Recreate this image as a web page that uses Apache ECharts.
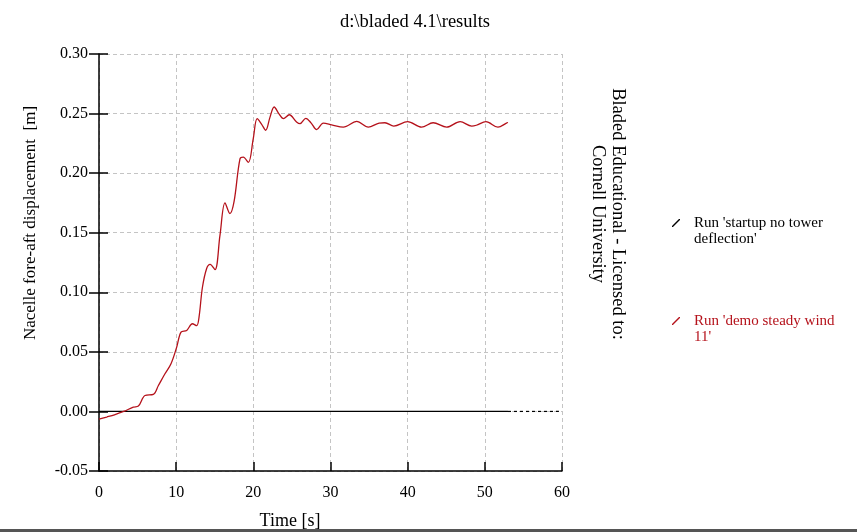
<!DOCTYPE html>
<html>
<head>
<meta charset="utf-8">
<script src="https://cdn.jsdelivr.net/npm/echarts@6/dist/echarts.min.js"></script>
<style>
html,body{margin:0;padding:0;background:#fff;}
#chart{width:857px;height:532px;}
</style>
</head>
<body>
<div id="chart"></div>
<script>
// ---- data ----
const titleText = "d:\\bladed 4.1\\results";
const yAxisName = "Nacelle fore-aft displacement  [m]";
const xAxisName = "Time [s]";
const licenseLines = ["Bladed Educational - Licensed to:", "Cornell University"];

const seriesNames = ["Run 'startup no tower deflection'", "Run 'demo steady wind 11'"];

// Run 'startup no tower deflection' (solid part and dotted continuation)
const startupTime = [0, 53];
const startupValue = [0, 0];
const startupTailTime = [53, 59.6];
const startupTailValue = [0, 0];

// Run 'demo steady wind 11'
const demoTime = [0, 1, 2, 3.2, 4.45, 5.1, 5.96, 7.04, 7.7, 8.55, 9.33, 10.07, 10.63, 11.36, 12.1, 12.66, 12.96,
  13.4, 13.95, 14.4, 15.03, 15.68, 16.33, 16.97, 17.5, 18.27, 18.7, 19.35, 19.99, 20.5, 21.08, 21.6, 22.16, 22.7,
  23.3, 23.9, 24.66, 25.6, 26.05, 26.8, 27.5, 28.2, 29.07, 30.15, 31.66, 33.4, 34.9, 36.3, 37.06, 38.2, 40.0,
  41.8, 43.3, 45.05, 46.8, 48.3, 48.9, 50.15, 51.7, 52.8, 53.0];
const demoValue = [-0.0065, -0.0047, -0.0028, 0.0, 0.0036, 0.0045, 0.0134, 0.0143, 0.0218, 0.0316, 0.040, 0.054,
  0.0666, 0.068, 0.0736, 0.072, 0.079, 0.104, 0.120, 0.1235, 0.119, 0.148, 0.175, 0.166, 0.176, 0.212, 0.2135,
  0.209, 0.229, 0.2457, 0.241, 0.236, 0.247, 0.2555, 0.250, 0.2457, 0.249, 0.243, 0.2415, 0.246, 0.242, 0.2365,
  0.242, 0.2406, 0.2386, 0.2434, 0.2386, 0.242, 0.2423, 0.2395, 0.2432, 0.2386, 0.2423, 0.2386, 0.2432, 0.2395,
  0.2402, 0.2432, 0.2386, 0.242, 0.2425];

const xMin = 0, xMax = 60, xStep = 10;
const yMin = -0.05, yMax = 0.30, yStep = 0.05;

// ---- chart ----
const zip = (a, b) => a.map((v, i) => [v, b[i]]);
const FONT = "Liberation Serif";
const RED = "#b5121b";
const chart = echarts.init(document.getElementById('chart'), null, {renderer: 'canvas'});

const legendWrap = {};
legendWrap[seriesNames[0]] = "\nRun 'startup no tower\ndeflection'";
legendWrap[seriesNames[1]] = "\nRun 'demo steady wind\n11'";
// slash glyph plus an invisible point that widens the icon box (gap before the text)
const slashIcon = 'path://M0,8 L1,8 L8,1 L8,0 L7,0 L0,7 Z M17,4 L17.01,4 L17.01,4.01 Z';

chart.setOption({
  animation: false,
  backgroundColor: '#fff',
  grid: {left: 99, right: 295, top: 54, bottom: 61, containLabel: false},
  legend: {
    orient: 'vertical', left: 667, top: 194, itemGap: 50,
    itemWidth: 17, itemHeight: 8,
    formatter: n => legendWrap[n] || n,
    data: [
      {name: seriesNames[0], icon: slashIcon, itemStyle: {color: '#000'}, textStyle: {color: '#000'}},
      {name: seriesNames[1], icon: slashIcon, itemStyle: {color: RED}, textStyle: {color: RED}}
    ],
    textStyle: {fontFamily: FONT, fontSize: 15, lineHeight: 16}
  },
  xAxis: {
    type: 'value', min: xMin, max: xMax, interval: xStep,
    axisLine: {show: true, onZero: false, lineStyle: {color: '#000', width: 1.5}},
    axisTick: {show: true, inside: true, length: 9, lineStyle: {color: '#000', width: 1.5}},
    axisLabel: {fontFamily: FONT, fontSize: 16, color: '#000', margin: 14},
    splitLine: {show: true, lineStyle: {color: '#c4c4c4', type: [4, 3], width: 1}}
  },
  yAxis: [{
    type: 'value', min: yMin, max: yMax, interval: yStep,
    axisLine: {show: true, onZero: false, lineStyle: {color: '#000', width: 1.5}},
    axisTick: {show: true, inside: false, length: 10, lineStyle: {color: '#000', width: 1.5}},
    axisLabel: {fontFamily: FONT, fontSize: 16, color: '#000', margin: 11, formatter: v => v.toFixed(2)},
    splitLine: {show: true, lineStyle: {color: '#c4c4c4', type: [4, 3], width: 1}}
  }, {
    type: 'value', min: yMin, max: yMax, interval: yStep, position: 'left',
    axisLine: {show: false},
    axisTick: {show: true, inside: true, length: 9, lineStyle: {color: '#000', width: 1.5}},
    axisLabel: {show: false},
    splitLine: {show: false}
  }],
  series: [{
    name: seriesNames[0], type: 'line', data: zip(startupTime, startupValue),
    showSymbol: false, lineStyle: {color: '#000', width: 1.2}, itemStyle: {color: '#000'}, z: 3
  }, {
    name: seriesNames[0] + ' tail', type: 'line', data: zip(startupTailTime, startupTailValue),
    showSymbol: false, lineStyle: {color: '#000', width: 1.2, type: [3, 3]}, z: 3
  }, {
    name: seriesNames[1], type: 'line', data: zip(demoTime, demoValue), smooth: 0.35,
    showSymbol: false, lineStyle: {color: RED, width: 1.3}, itemStyle: {color: RED}, z: 4
  }],
  graphic: [{
    type: 'text', x: 415, y: 22,
    style: {text: titleText, fontFamily: FONT, fontSize: 18.5, fill: '#000', align: 'center', verticalAlign: 'middle'}
  }, {
    type: 'text', x: 31, y: 223, rotation: Math.PI / 2,
    style: {text: yAxisName, fontFamily: FONT, fontSize: 17, fill: '#000', align: 'center', verticalAlign: 'middle'}
  }, {
    type: 'text', x: 290, y: 521,
    style: {text: xAxisName, fontFamily: FONT, fontSize: 18, fill: '#000', align: 'center', verticalAlign: 'middle'}
  }, {
    type: 'text', x: 608, y: 214, rotation: -Math.PI / 2,
    style: {text: licenseLines.join('\n'), fontFamily: FONT, fontSize: 18.5, lineHeight: 20,
      fill: '#000', align: 'center', verticalAlign: 'middle'}
  }, {
    type: 'rect', shape: {x: 0, y: 529, width: 857, height: 3}, style: {fill: '#555'}
  }]
});
</script>
</body>
</html>
